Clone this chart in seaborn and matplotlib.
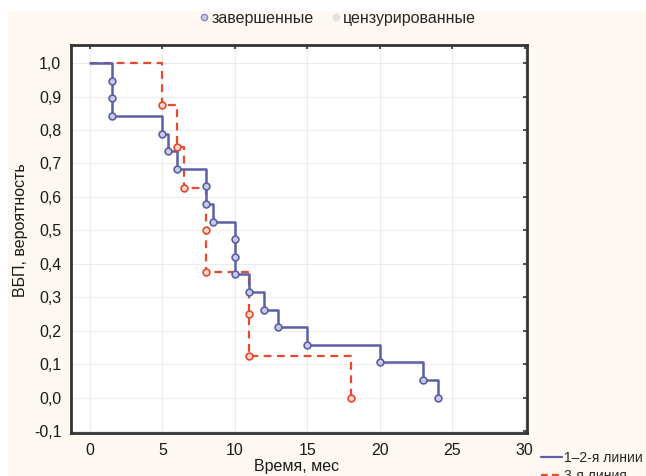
import matplotlib
matplotlib.use("Agg")
import matplotlib.pyplot as plt
import seaborn as sns
import pandas as pd
from matplotlib.lines import Line2D
from matplotlib.patches import Rectangle

# ---- data ----
line12_time = [0, 1.5, 1.5, 1.5, 5, 5.4, 6, 8, 8, 8.5, 10, 10, 10, 11, 12, 13, 15, 20, 23, 24]
line12_surv = [1.0, 0.947, 0.895, 0.842, 0.789, 0.737, 0.684, 0.632, 0.579, 0.526,
               0.474, 0.421, 0.368, 0.316, 0.263, 0.211, 0.158, 0.105, 0.053, 0.0]
line3_time = [0, 5, 6, 6.5, 8, 8, 11, 11, 18]
line3_surv = [1.0, 0.875, 0.75, 0.625, 0.5, 0.375, 0.25, 0.125, 0.0]

x_ticks = [0, 5, 10, 15, 20, 25, 30]
y_ticks = [-0.1, 0.0, 0.1, 0.2, 0.3, 0.4, 0.5, 0.6, 0.7, 0.8, 0.9, 1.0]
y_tick_labels = ["-0,1", "0,0", "0,1", "0,2", "0,3", "0,4", "0,5", "0,6", "0,7", "0,8", "0,9", "1,0"]
series_labels = ["1–2-я линии", "3-я линия"]
top_legend_labels = ["завершенные", "цензурированные"]

BLUE = "#5b5fa6"
RED = "#e5492e"
BG = "#fdf8f1"

sns.set_style("white")
plt.rcParams["font.family"] = ["Liberation Sans", "DejaVu Sans"]

fig = plt.figure(figsize=(6.46, 4.76), dpi=100, facecolor="white")
fig.patches.append(Rectangle((8 / 646, 0), 1, 1 - 11 / 476, transform=fig.transFigure,
                             facecolor=BG, edgecolor="none", zorder=-10))
ax = fig.add_axes([71 / 646, 1 - 433 / 476, (527 - 71) / 646, (433 - 45) / 476])
ax.set_facecolor("white")

df12 = pd.DataFrame({"t": line12_time, "s": line12_surv})
df3 = pd.DataFrame({"t": line3_time, "s": line3_surv})

sns.lineplot(data=df3, x="t", y="s", ax=ax, estimator=None, sort=False,
             drawstyle="steps-post", color=RED, linestyle=(0, (3.5, 2.5)), linewidth=1.6, zorder=3)
sns.lineplot(data=df12, x="t", y="s", ax=ax, estimator=None, sort=False,
             drawstyle="steps-post", color=BLUE, linewidth=1.8, zorder=4)
sns.scatterplot(data=df3.iloc[1:], x="t", y="s", ax=ax, marker="o", s=24,
                facecolor="#f6d8cf", edgecolor=RED, linewidth=1.2, zorder=5)
sns.scatterplot(data=df12.iloc[1:], x="t", y="s", ax=ax, marker="o", s=24,
                facecolor="#c9cbe6", edgecolor=BLUE, linewidth=1.2, zorder=6)

ax.set_xlim(-1.3, 30.15)
ax.set_ylim(-0.106, 1.054)
ax.set_xticks(x_ticks)
ax.set_xticklabels([str(v) for v in x_ticks], fontsize=11.5)
ax.set_yticks(y_ticks)
ax.set_yticklabels(y_tick_labels, fontsize=11.5)
ax.grid(True, color="#ececec", linewidth=0.8)
ax.tick_params(direction="in", length=3, width=1.2, color="#333333", pad=7,
               top=True, right=True, labelcolor="#1a1a1a")
for sp in ax.spines.values():
    sp.set_color("#333333")
    sp.set_linewidth(2)
ax.set_xlabel("")
ax.set_ylabel("")

fig.text(297 / 646, 1 - 466 / 476, "Время, мес", ha="center", va="center", fontsize=11.5, color="#1a1a1a")
fig.text(21 / 646, 1 - 230 / 476, "ВБП, вероятность", ha="center", va="center",
         rotation=90, fontsize=11.5, color="#1a1a1a")

top_handles = [
    Line2D([], [], linestyle="none", marker="o", markersize=4.5, markerfacecolor="#c9cbe6",
           markeredgecolor="#8587c0"),
    Line2D([], [], linestyle="none", marker="o", markersize=4.5, markerfacecolor="#e4e4e4",
           markeredgecolor="#e0e0e0"),
]
fig.legend(top_handles, top_legend_labels, loc="center", bbox_to_anchor=(337 / 646, 1 - 18 / 476),
           ncol=2, frameon=False, fontsize=11.5, handletextpad=0.05, columnspacing=1.0,
           handlelength=0.8)

bottom_handles = [
    Line2D([], [], color=BLUE, linewidth=1.6),
    Line2D([], [], color=RED, linewidth=1.6, linestyle=(0, (3, 2))),
]
fig.legend(bottom_handles, series_labels, loc="upper left", bbox_to_anchor=(534 / 646, 1 - 444 / 476),
           frameon=False, fontsize=10, handlelength=1.5, handletextpad=0.15, labelspacing=0.3,
           borderpad=0)

fig.savefig("out.png", dpi=100, facecolor=fig.get_facecolor())
